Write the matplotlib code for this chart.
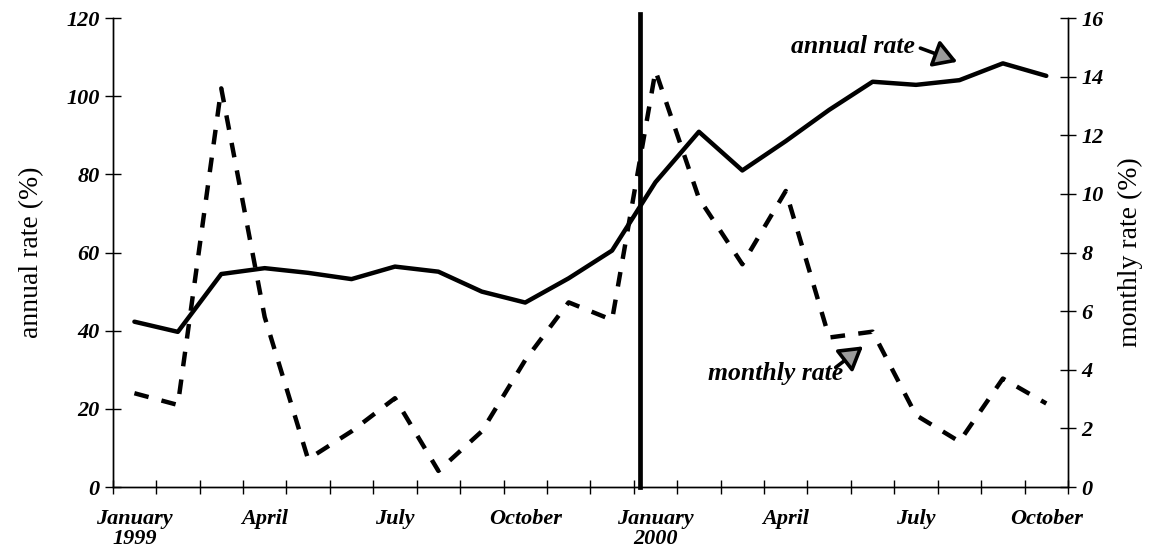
import matplotlib
matplotlib.use("Agg")
import matplotlib.pyplot as plt
from matplotlib.patches import FancyArrowPatch
import numpy as np

# ---- data ----
months = ["Jan 1999", "Feb 1999", "Mar 1999", "Apr 1999", "May 1999", "Jun 1999",
          "Jul 1999", "Aug 1999", "Sep 1999", "Oct 1999", "Nov 1999", "Dec 1999",
          "Jan 2000", "Feb 2000", "Mar 2000", "Apr 2000", "May 2000", "Jun 2000",
          "Jul 2000", "Aug 2000", "Sep 2000", "Oct 2000"]
annual_rate = [42.3, 39.7, 54.5, 56.0, 54.8, 53.2, 56.4, 55.1, 50.0, 47.2, 53.4, 60.5,
               78.0, 90.9, 81.0, 88.5, 96.5, 103.7, 102.9, 104.1, 108.4, 105.2]
monthly_rate = [3.2, 2.8, 13.6, 5.8, 0.95, 1.9, 3.03, 0.55, 1.9, 4.33, 6.3, 5.7,
                14.2, 9.85, 7.6, 10.1, 5.1, 5.3, 2.45, 1.55, 3.7, 2.85]
tick_label_idx = [0, 3, 6, 9, 12, 15, 18, 21]
tick_labels = ["January\n1999", "April", "July", "October",
               "January\n2000", "April", "July", "October"]
left_ticks = [0, 20, 40, 60, 80, 100, 120]
right_ticks = [0, 2, 4, 6, 8, 10, 12, 14, 16]
break_position = 11.65

SERIF = "Liberation Serif"
tick_font = dict(family=SERIF, weight="bold", style="italic", size=16)

fig = plt.figure(figsize=(11.5, 5.58), dpi=100)
ax = fig.add_axes([0.098, 0.1272, 0.8307, 0.8405])
ax2 = ax.twinx()

x = np.arange(len(months))
ax.plot(x, annual_rate, color="black", lw=3.2, solid_joinstyle="round",
        solid_capstyle="round", zorder=3)
ax2.plot(x, monthly_rate, color="black", lw=3.2, linestyle=(0, (3.3, 3.0)),
         dash_capstyle="butt", zorder=3)
ax.axvline(break_position, color="black", lw=3.4, zorder=4, ymax=1.008, clip_on=False)

ax.set_xlim(-0.5, len(months) - 0.5)
ax.set_ylim(0, 120)
ax2.set_ylim(0, 16)

# x ticks: boundaries as minor ticks, labels at month centres
ax.set_xticks(np.arange(-0.5, len(months), 1.0), minor=True)
ax.set_xticks(tick_label_idx)
ax.set_xticklabels(tick_labels, fontdict=tick_font, linespacing=1.0)
ax.tick_params(axis="x", which="major", length=0, pad=16)
ax.tick_params(axis="x", which="minor", direction="inout", length=10, width=1)

ax.set_yticks(left_ticks)
ax.set_yticklabels([str(v) for v in left_ticks], fontdict=tick_font)
ax.tick_params(axis="y", direction="inout", length=11, width=1, pad=4)
ax2.set_yticks(right_ticks)
ax2.set_yticklabels([str(v) for v in right_ticks], fontdict=tick_font)
ax2.tick_params(axis="y", direction="inout", length=11, width=1, pad=4)

for a in (ax, ax2):
    a.spines["top"].set_visible(False)
    for s in ("left", "right", "bottom"):
        a.spines[s].set_linewidth(1.0)

ax.set_ylabel("annual rate (%)", family=SERIF, fontsize=20)
ax.yaxis.set_label_coords(-0.072, 0.5)
ax2.set_ylabel("monthly rate (%)", family=SERIF, fontsize=20, rotation=90)
ax2.yaxis.set_label_coords(1.052, 0.5)

# annotations
ann_font = dict(family=SERIF, weight="bold", style="italic", fontsize=18.5)
ax.text(17.98, 111.0, "annual rate", ha="right", va="baseline", **ann_font)
ax.text(13.22, 27.4, "monthly rate", ha="left", va="baseline", **ann_font)

for tail, tip in [((18.10, 112.3), (18.95, 108.8)), ((16.15, 30.6), (16.78, 36.0))]:
    arr = FancyArrowPatch(tail, tip, arrowstyle="-|>,head_length=0.7,head_width=0.42",
                          mutation_scale=20, lw=2.6, fc="#9a9a9a", ec="black",
                          shrinkA=0, shrinkB=0, zorder=5)
    ax.add_patch(arr)

fig.savefig("out.png", dpi=100)
